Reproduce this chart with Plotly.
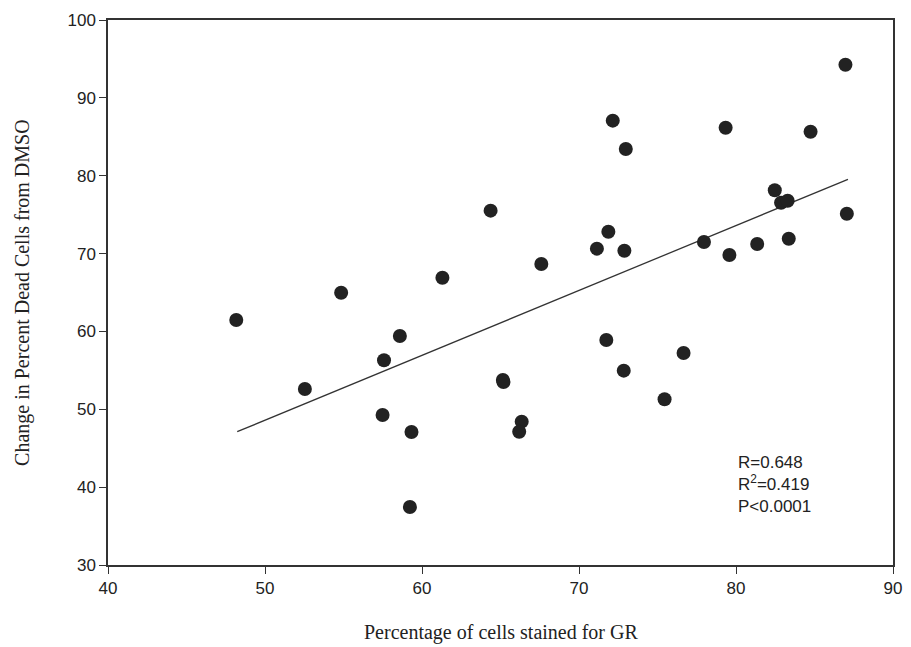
import plotly.graph_objects as go

# Data
gr_pct = [48.17, 52.54, 54.85, 57.58, 57.49, 58.59, 59.33, 59.23, 61.30, 64.37,
          65.15, 65.19, 66.35, 66.19, 67.60, 71.14, 71.87, 71.74, 72.15, 72.98,
          72.89, 72.85, 75.45, 76.66, 77.96, 79.34, 79.58, 81.35, 82.47, 82.87,
          83.29, 83.36, 84.75, 86.97, 87.06]
dead_change = [61.47, 52.61, 64.96, 56.29, 49.27, 59.41, 47.08, 37.45, 66.90, 75.51,
               53.76, 53.51, 48.41, 47.12, 68.66, 70.63, 72.81, 58.90, 87.07, 83.43,
               70.37, 54.96, 51.28, 57.23, 71.49, 86.17, 69.82, 71.23, 78.13, 76.53,
               76.79, 71.91, 85.65, 94.26, 75.12]

fit_x = [48.23, 87.13]
fit_y = [47.12, 79.54]

x_ticks = [40, 50, 60, 70, 80, 90]
y_ticks = [30, 40, 50, 60, 70, 80, 90, 100]

stats_text = "R=0.648<br>R<sup>2</sup>=0.419<br>P&lt;0.0001"

fig = go.Figure()
fig.add_trace(go.Scatter(x=fit_x, y=fit_y, mode="lines",
                         line=dict(color="#333333", width=1.3), hoverinfo="skip"))
fig.add_trace(go.Scatter(x=gr_pct, y=dead_change, mode="markers",
                         marker=dict(size=14, color="#222222", line=dict(width=0))))

axis_common = dict(showline=True, linecolor="#333333", linewidth=1.5, mirror=True,
                   ticks="outside", ticklen=7, tickwidth=1.3, tickcolor="#333333",
                   showgrid=False, zeroline=False,
                   tickfont=dict(family="Liberation Sans, Arial, sans-serif", size=17, color="#222222"))

fig.update_xaxes(range=[40, 90], tickvals=x_ticks, **axis_common)
fig.update_yaxes(range=[30, 100], tickvals=y_ticks, **axis_common)

fig.add_annotation(x=80, y=44.6, xref="x", yref="y", text=stats_text, showarrow=False,
                   xanchor="left", yanchor="top", align="left",
                   font=dict(family="Liberation Sans, Arial, sans-serif", size=17, color="#222222"))

fig.add_annotation(x=0.5, y=-0.123, xref="paper", yref="paper",
                   text="Percentage of cells stained for GR", showarrow=False,
                   xanchor="center", yanchor="middle",
                   font=dict(family="Liberation Serif, Times New Roman, serif", size=20, color="#222222"))
fig.add_annotation(x=-0.109, y=0.5, xref="paper", yref="paper",
                   text="Change in Percent Dead Cells from DMSO", showarrow=False, textangle=-90,
                   xanchor="center", yanchor="middle",
                   font=dict(family="Liberation Serif, Times New Roman, serif", size=20, color="#222222"))

fig.update_layout(width=911, height=647, showlegend=False,
                  margin=dict(l=108, r=9, t=20, b=82),
                  plot_bgcolor="white", paper_bgcolor="white")

fig.write_html("out.html", config={"displayModeBar": False},
               post_script="document.body.style.margin='0';document.body.style.overflow='hidden';")
